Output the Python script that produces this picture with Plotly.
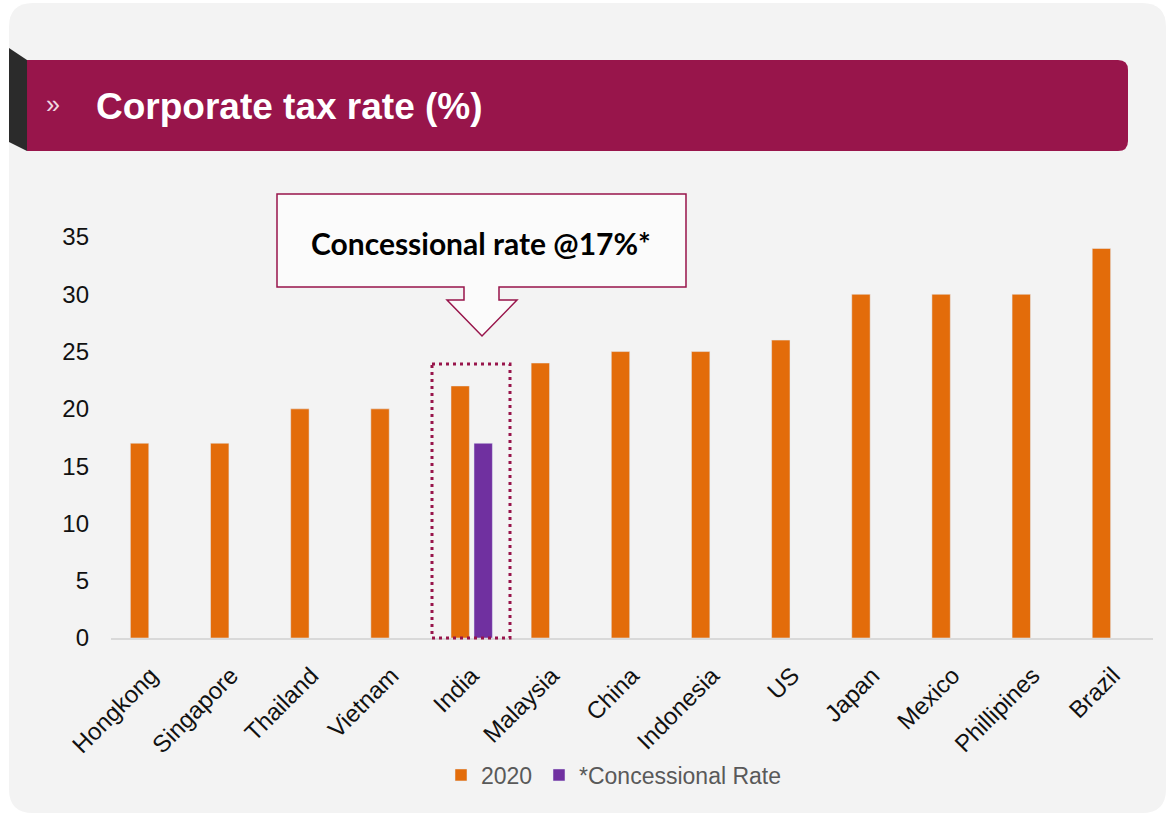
import plotly.graph_objects as go

countries = ["Hongkong", "Singapore", "Thailand", "Vietnam", "India", "Malaysia", "China",
             "Indonesia", "US", "Japan", "Mexico", "Phillipines", "Brazil"]
rate_2020 = [17, 17, 20, 20, 22, 24, 25, 25, 26, 30, 30, 30, 34]
concessional = [None, None, None, None, 17, None, None, None, None, None, None, None, None]
y_ticks = [0, 5, 10, 15, 20, 25, 30, 35]

W, H = 1168, 815
L, R, T, B = 111, 15, 237, 177
PW, PH = W - L - R, H - T - B


def px(x):
    return (x - L) / PW


def py(y):
    return (H - B - y) / PH


def path(points):
    return "M " + " L ".join(f"{px(x):.5f},{py(y):.5f}" for x, y in points) + " Z"


CRIMSON = "#98154B"

fig = go.Figure()
fig.add_trace(go.Bar(x=countries, y=rate_2020, name="2020", marker_color="#E36C0A",
                     legend="legend"))
fig.add_trace(go.Bar(x=countries, y=concessional, name="*Concessional Rate",
                     marker_color="#7030A0", legend="legend2"))

shapes = []
# card background with rounded corners
r = 24
x0, y0, x1, y1 = 9, 3, 1166, 813
card = (f"M {px(x0 + r):.5f},{py(y0):.5f} L {px(x1 - r):.5f},{py(y0):.5f} "
        f"Q {px(x1):.5f},{py(y0):.5f} {px(x1):.5f},{py(y0 + r):.5f} "
        f"L {px(x1):.5f},{py(y1 - r):.5f} Q {px(x1):.5f},{py(y1):.5f} {px(x1 - r):.5f},{py(y1):.5f} "
        f"L {px(x0 + r):.5f},{py(y1):.5f} Q {px(x0):.5f},{py(y1):.5f} {px(x0):.5f},{py(y1 - r):.5f} "
        f"L {px(x0):.5f},{py(y0 + r):.5f} Q {px(x0):.5f},{py(y0):.5f} {px(x0 + r):.5f},{py(y0):.5f} Z")
shapes.append(dict(type="path", xref="paper", yref="paper", path=card,
                   fillcolor="#f3f3f3", line=dict(width=0), layer="below"))
# title band
rb = 10
bx0, by0, bx1, by1 = 27, 60, 1128, 151
band = (f"M {px(bx0):.5f},{py(by0):.5f} L {px(bx1 - rb):.5f},{py(by0):.5f} "
        f"Q {px(bx1):.5f},{py(by0):.5f} {px(bx1):.5f},{py(by0 + rb):.5f} "
        f"L {px(bx1):.5f},{py(by1 - rb):.5f} Q {px(bx1):.5f},{py(by1):.5f} {px(bx1 - rb):.5f},{py(by1):.5f} "
        f"L {px(bx0):.5f},{py(by1):.5f} Z")
shapes.append(dict(type="path", xref="paper", yref="paper", path=band,
                   fillcolor=CRIMSON, line=dict(width=0), layer="below"))
shapes.append(dict(type="path", xref="paper", yref="paper",
                   path=path([(9, 48), (27, 60), (27, 151), (9, 142)]),
                   fillcolor="#2b2b2b", line=dict(width=0), layer="below"))
# callout box with arrow
shapes.append(dict(type="path", xref="paper", yref="paper",
                   path=path([(277, 194), (686, 194), (686, 287), (499, 287), (499, 300),
                              (517, 300), (482, 336), (447, 300), (464, 300), (464, 287),
                              (277, 287)]),
                   fillcolor="#fbfbfb", line=dict(color=CRIMSON, width=1.5), layer="above"))
# dotted highlight around India
shapes.append(dict(type="rect", xref="paper", yref="paper",
                   x0=px(432), x1=px(510), y0=py(364), y1=py(638),
                   line=dict(color=CRIMSON, width=3, dash="3px,4px"), layer="above"))

annotations = [
    dict(text="<b>Corporate tax rate (%)</b>", x=px(94), y=py(106), xref="paper", yref="paper",
         xanchor="left", yanchor="middle", showarrow=False,
         font=dict(family="Arial", size=37, color="white")),
    dict(text="»", x=px(53), y=py(104), xref="paper", yref="paper",
         xanchor="center", yanchor="middle", showarrow=False,
         font=dict(family="Arial", size=25, color="#f0d6e0")),
    dict(text="<b>Concessional rate @17%*</b>", x=px(481), y=py(243), xref="paper", yref="paper",
         xanchor="center", yanchor="middle", showarrow=False,
         font=dict(family="Lato", size=30, color="black")),
]

legend_style = dict(orientation="h", xanchor="left", y=py(775), yanchor="middle",
                    font=dict(family="Arial", size=23, color="#595959"),
                    bgcolor="rgba(0,0,0,0)", itemwidth=30)

fig.update_layout(
    width=W, height=H,
    margin=dict(l=L, r=R, t=T, b=B),
    paper_bgcolor="white", plot_bgcolor="rgba(0,0,0,0)",
    barmode="group", bargap=0.426, bargroupgap=0.2,
    shapes=shapes, annotations=annotations,
    showlegend=True,
    legend=dict(x=px(441), **legend_style),
    legend2=dict(x=px(539), **legend_style),
    font=dict(family="Arial"),
)
fig.update_xaxes(showline=True, linecolor="#d9d9d9", linewidth=2, tickangle=-45,
                 tickfont=dict(family="Arial", size=24, color="#111111"),
                 showgrid=False, ticks="", ticklabelstandoff=12)
fig.update_yaxes(range=[0, 35], tickvals=y_ticks, showgrid=False, zeroline=False,
                 showline=False, ticks="", tickfont=dict(family="Arial", size=24, color="#111111"),
                 ticklabelstandoff=21)

fig.write_html("out.html")
